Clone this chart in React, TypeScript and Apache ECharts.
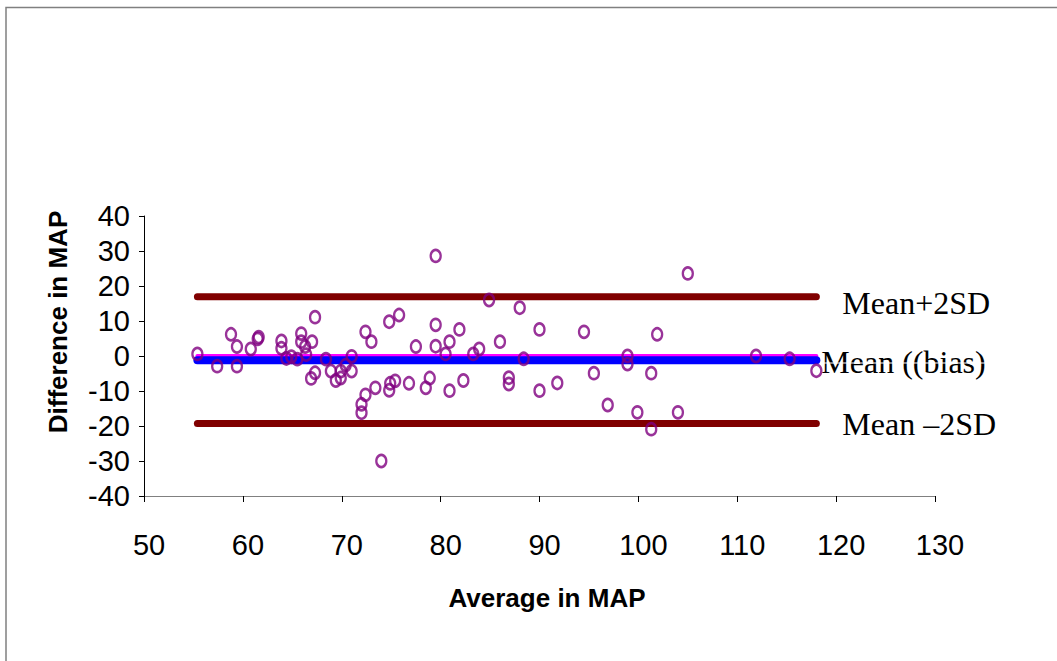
import React, { useEffect, useRef } from "react";
import * as echarts from "echarts";

// Average in MAP (x) and difference in MAP (y) for each subject
const avgMAP = [
  55.4, 57.4, 58.8, 59.4, 59.4, 60.8, 61.5, 61.6, 63.9, 63.9,
  64.4, 64.9, 65.5, 65.9, 65.9, 66.3, 66.4, 67.0, 66.9, 67.3,
  67.3, 68.4, 68.9, 69.4, 69.9, 69.9, 70.4, 71.0, 71.0, 72.0,
  72.0, 72.4, 72.4, 73.0, 73.4, 74.0, 74.8, 74.8, 74.9, 75.4,
  75.8, 76.8, 77.5, 78.5, 78.9, 79.5, 79.5, 79.5, 80.5, 80.9,
  80.9, 81.9, 82.3, 83.3, 83.9, 84.9, 86.0, 86.9, 86.9, 88.0,
  88.4, 90.0, 90.0, 91.8, 94.5, 95.5, 96.9, 98.9, 98.9, 99.9,
  101.3, 101.3, 101.9, 104.0, 105.0, 111.9, 115.3, 118.0,
];
const diffMAP = [
  0.6, -2.9, 6.2, 2.7, -2.9, 2.0, 4.9, 5.4, 4.3, 2.2,
  -0.7, -0.2, -0.9, 6.4, 4.1, 2.7, 0.4, 4.1, -6.4, -4.8,
  11.1, -0.9, -4.3, -7.0, -6.3, -4.3, -2.6, -4.3, -0.1, -13.8,
  -16.2, -11.1, 6.9, 4.1, -9.1, -30.0, 9.8, -9.8, -7.8, -7.1,
  11.7, -7.8, 2.7, -9.1, -6.3, 28.6, 8.9, 2.8, 0.6, 4.1,
  -9.9, 7.6, -7.0, 0.6, 2.0, 16.0, 4.1, -6.2, -8.0, 13.8,
  -0.8, 7.6, -9.9, -7.7, 6.9, -4.9, -14.0, 0.0, -2.3, -16.1,
  -4.9, -20.9, 6.2, -16.1, 23.6, 0.0, -0.8, -4.2,
];

const upperLimit = 16.9; // Mean + 2SD
const meanBias = -1.2; // Mean (bias)
const lowerLimit = -19.3; // Mean - 2SD
const zeroLine = 0;
const limitLabels = ["Mean+2SD", "Mean ((bias)", "Mean \u20132SD"];

const xMinAxis = 50;
const xMaxAxis = 130;
const xStep = 10;
const yMinAxis = -40;
const yMaxAxis = 40;
const yStep = 10;

const xTitle = "Average in MAP";
const yTitle = "Difference in MAP";

export default function App() {
  const ref = useRef<HTMLDivElement>(null);
  useEffect(() => {
    const chart = echarts.init(ref.current!, null, { renderer: "svg" });
    const xMin = Math.min(...avgMAP);
    const xMax = Math.max(...avgMAP);
    const hline = (v: number) => [
      [xMin, v],
      [xMax, v],
    ];
    const sans = "'Liberation Sans', Arial, sans-serif";
    const serif = "'Liberation Serif', 'Times New Roman', serif";
    const endLabel = (text: string, dist: number, dy: number) => ({
      show: true,
      formatter: text,
      fontFamily: serif,
      fontSize: 32,
      color: "#000",
      distance: dist,
      offset: [0, dy],
    });

    chart.setOption({
      animation: false,
      backgroundColor: "#fff",
      grid: { left: 144, right: 122, top: 216, bottom: 165 },
      xAxis: {
        type: "value",
        min: xMinAxis,
        max: xMaxAxis,
        interval: xStep,
        splitLine: { show: false },
        axisLine: { show: true, onZero: false, lineStyle: { color: "#808080", width: 1 } },
        axisTick: { show: true, length: 6, lineStyle: { color: "#000" } },
        axisLabel: {
          color: "#000",
          fontFamily: sans,
          fontSize: 29,
          margin: 34,
          padding: [0, 0, 0, 10],
        },
      },
      yAxis: {
        type: "value",
        min: yMinAxis,
        max: yMaxAxis,
        interval: yStep,
        splitLine: { show: false },
        axisLine: { show: true, onZero: false, lineStyle: { color: "#000", width: 1 } },
        axisTick: { show: true, length: 5, lineStyle: { color: "#000" } },
        axisLabel: {
          color: "#000",
          fontFamily: sans,
          fontSize: 29,
          margin: 14,
        },
      },
      series: [
        {
          type: "line",
          data: hline(zeroLine),
          symbol: "none",
          silent: true,
          lineStyle: { color: "#FF00FF", width: 4, cap: "round" },
          z: 1,
        },
        {
          type: "line",
          data: hline(meanBias),
          symbol: "none",
          silent: true,
          lineStyle: { color: "#0000FF", width: 8, cap: "round" },
          endLabel: endLabel(limitLabels[1], 5, 2),
          z: 2,
        },
        {
          type: "line",
          data: hline(upperLimit),
          symbol: "none",
          silent: true,
          lineStyle: { color: "#800000", width: 7, cap: "round" },
          endLabel: endLabel(limitLabels[0], 26, 6),
          z: 2,
        },
        {
          type: "line",
          data: hline(lowerLimit),
          symbol: "none",
          silent: true,
          lineStyle: { color: "#800000", width: 7, cap: "round" },
          endLabel: endLabel(limitLabels[2], 26, 0),
          z: 2,
        },
        {
          type: "scatter",
          data: avgMAP.map((x, i) => [x, diffMAP[i]]),
          symbol: "circle",
          symbolSize: [10, 12],
          silent: true,
          itemStyle: {
            color: "rgba(0,0,0,0)",
            borderColor: "#800080",
            borderWidth: 2.5,
          },
          z: 5,
        },
      ],
      graphic: [
        {
          type: "rect",
          silent: true,
          shape: { x: 6, y: 7.5, width: 1200, height: 800 },
          style: { fill: "none", stroke: "#808080", lineWidth: 1.5 },
          z: -10,
        },
        {
          type: "line",
          silent: true,
          shape: { x1: 824, y1: 363, x2: 995, y2: 363 },
          style: { stroke: "#fff", lineWidth: 1.2 },
          z: 100,
        },
        {
          type: "text",
          silent: true,
          x: 547,
          y: 598,
          style: {
            text: xTitle,
            fontFamily: sans,
            fontWeight: "bold",
            fontSize: 26,
            fill: "#000",
            textAlign: "center",
            textVerticalAlign: "middle",
          },
        },
        {
          type: "text",
          silent: true,
          x: 58,
          y: 322,
          rotation: Math.PI / 2,
          style: {
            text: yTitle,
            fontFamily: sans,
            fontWeight: "bold",
            fontSize: 26,
            fill: "#000",
            textAlign: "center",
            textVerticalAlign: "middle",
          },
        },
      ],
    });
    return () => chart.dispose();
  }, []);
  return (
    <div
      ref={ref}
      style={{ position: "fixed", left: 0, top: 0, width: 1057, height: 661, background: "#fff" }}
    />
  );
}
